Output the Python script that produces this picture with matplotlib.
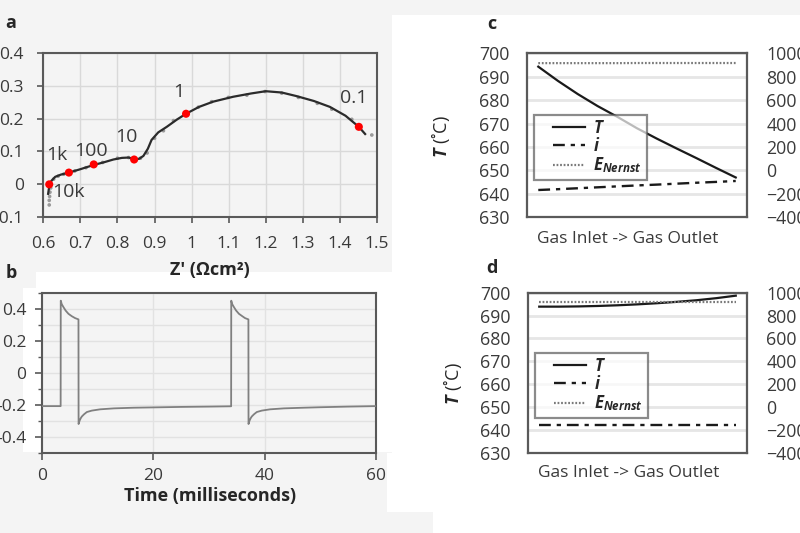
import matplotlib
matplotlib.use('Agg')
import matplotlib.pyplot as plt
from matplotlib.patches import Rectangle
from matplotlib.legend_handler import HandlerLine2D
from matplotlib.ticker import MultipleLocator

plt.rcParams['font.family'] = ['Open Sans', 'DejaVu Sans']
plt.rcParams['mathtext.fontset'] = 'custom'
plt.rcParams['mathtext.rm'] = 'Open Sans'
plt.rcParams['mathtext.it'] = 'Open Sans:italic'
plt.rcParams['mathtext.bf'] = 'Open Sans:bold'
plt.rcParams['mathtext.bfit'] = 'Open Sans:italic:bold'

# ---------------- data ----------------
# (a) impedance spectrum
fit_x = [0.613, 0.615, 0.617, 0.622, 0.632, 0.648, 0.669, 0.699, 0.735, 0.765, 0.789,
         0.812, 0.830, 0.845, 0.858, 0.870, 0.882, 0.892, 0.910, 0.933, 0.960, 0.985,
         1.020, 1.058, 1.112, 1.160, 1.200, 1.243, 1.283, 1.330, 1.373, 1.415, 1.451, 1.468]
fit_y = [-0.030, -0.015, -0.002, 0.010, 0.022, 0.029, 0.035, 0.045, 0.058, 0.067, 0.075,
         0.080, 0.081, 0.076, 0.077, 0.086, 0.108, 0.135, 0.158, 0.175, 0.197, 0.215,
         0.236, 0.252, 0.267, 0.277, 0.284, 0.280, 0.269, 0.254, 0.236, 0.209, 0.175, 0.153]
meas_x = [0.616, 0.616, 0.617, 0.618, 0.620, 0.628, 0.640, 0.655, 0.685, 0.715, 0.760,
          0.800, 0.830, 0.862, 0.880, 0.900, 0.924, 0.951, 1.018, 1.054, 1.099, 1.149,
          1.198, 1.243, 1.288, 1.339, 1.378, 1.432, 1.486]
meas_y = [-0.064, -0.050, -0.038, -0.025, -0.012, 0.015, 0.024, 0.030, 0.040, 0.050, 0.066,
          0.079, 0.081, 0.079, 0.095, 0.140, 0.163, 0.194, 0.235, 0.252, 0.265, 0.272,
          0.283, 0.278, 0.265, 0.247, 0.229, 0.198, 0.150]
freq_x = [0.616, 0.669, 0.736, 0.845, 0.985, 1.451]
freq_y = [-0.001, 0.035, 0.060, 0.075, 0.215, 0.175]
freq_labels = ['10k', '1k', '100', '10', '1', '0.1']
a_xticks = [0.6, 0.7, 0.8, 0.9, 1.0, 1.1, 1.2, 1.3, 1.4, 1.5]
a_xticklabels = ['0.6', '0.7', '0.8', '0.9', '1', '1.1', '1.2', '1.3', '1.4', '1.5']
a_yticks = [-0.1, 0.0, 0.1, 0.2, 0.3, 0.4]
a_yticklabels = ['-0.1', '0', '0.1', '0.2', '0.3', '0.4']

# (b) voltage transient
time_ms = [0, 3.4, 3.42, 3.6, 3.9, 4.3, 4.8, 5.4, 6.0, 6.6, 6.62, 6.8, 7.0, 7.2, 7.6, 8.1,
           9.0, 10.5, 13.0, 16.5, 20.0, 25.0, 30.0, 34.0, 34.02, 34.2, 34.5, 34.9, 35.4,
           36.0, 36.5, 37.1, 37.12, 37.3, 37.5, 37.7, 38.1, 38.6, 39.5, 41.0, 43.5, 47.0,
           50.0, 55.0, 60.0]
volt = [-0.207, -0.207, 0.452, 0.430, 0.412, 0.390, 0.370, 0.355, 0.343, 0.335, -0.319,
        -0.298, -0.283, -0.272, -0.258, -0.244, -0.235, -0.227, -0.221, -0.217, -0.215,
        -0.212, -0.210, -0.208, 0.452, 0.430, 0.412, 0.390, 0.370, 0.355, 0.343, 0.335,
        -0.319, -0.298, -0.283, -0.272, -0.258, -0.244, -0.235, -0.227, -0.221, -0.217,
        -0.214, -0.210, -0.207]
b_yticks = [-0.4, -0.2, 0.0, 0.2, 0.4]
b_yticklabels = ['-0.4', '-0.2', '0', '0.2', '0.4']
b_xticks = [0, 20, 40, 60]

# (c), (d) along-channel profiles
position = [0.0, 0.1, 0.2, 0.3, 0.4, 0.5, 0.6, 0.7, 0.8, 0.9, 1.0]
T_c = [694.3, 688.2, 682.6, 677.5, 672.9, 668.0, 663.6, 659.4, 655.3, 651.1, 647.0]
i_c = [-167, -160, -152, -144, -136, -128, -121, -113, -105, -98, -90]
E_c = [916, 916, 916, 916, 916, 917, 917, 917, 917, 917, 917]
T_d = [693.9, 693.9, 694.0, 694.2, 694.5, 694.9, 695.4, 696.0, 696.7, 697.6, 698.7]
i_d = [-158, -158, -158, -158, -158, -158, -158, -158, -158, -158, -158]
E_d = [916, 916, 916, 916, 916, 916, 916, 916, 916, 916, 916]
T_ticks = [630, 640, 650, 660, 670, 680, 690, 700]
R_ticks = [-400, -200, 0, 200, 400, 600, 800, 1000]

# ---------------- layout helpers ----------------
W, H = 800, 533
BG = '#f4f4f4'
TXT = '#3a3a3a'
SP = '#595959'
fig = plt.figure(figsize=(8, 5.33), dpi=100, facecolor=BG)


def fr(x0, y0, x1, y1):
    return [x0 / W, 1 - y1 / H, (x1 - x0) / W, (y1 - y0) / H]


def ftext(x, y, s, **kw):
    return fig.text(x / W, 1 - y / H, s, **kw)


for (x0, y0, x1, y1) in [(392, 15, 800, 512), (433, 512, 800, 533), (387, 453, 392, 512),
                         (23, 288, 392, 452), (36, 272, 392, 290)]:
    fig.add_artist(Rectangle((x0 / W, 1 - y1 / H), (x1 - x0) / W, (y1 - y0) / H,
                             transform=fig.transFigure, facecolor='white',
                             edgecolor='none', zorder=-5))

# ---------------- panel a ----------------
axa = fig.add_axes(fr(43.3, 53.3, 377, 216.7))
axa.set_facecolor('none')
axa.plot(fit_x, fit_y, color='#2b2b2b', lw=1.6, zorder=3)
axa.scatter(meas_x, meas_y, s=7, color='#9a9a9a', edgecolors='none', zorder=2)
axa.scatter(freq_x, freq_y, s=34, color='#ff0000', edgecolors='none', zorder=5)
lab_pos = [(0.669, -0.040), (0.636, 0.073), (0.728, 0.086), (0.824, 0.129),
           (0.964, 0.266), (1.436, 0.248)]
for s, (lx, ly) in zip(freq_labels, lab_pos):
    axa.text(lx, ly, s, ha='center', va='baseline', fontsize=14, color=TXT, zorder=6)
axa.set_xlim(0.6, 1.5)
axa.set_ylim(-0.1, 0.4)
axa.set_xticks(a_xticks)
axa.set_xticklabels(a_xticklabels)
axa.set_yticks(a_yticks)
axa.set_yticklabels(a_yticklabels)
axa.grid(color='#d9d9d9', lw=1.0)
axa.set_axisbelow(True)
for s in axa.spines.values():
    s.set_color(SP)
    s.set_linewidth(1.5)
axa.tick_params(direction='out', length=4, width=1.2, color=SP, labelsize=12.5,
                labelcolor=TXT)
axa.tick_params(axis='y', pad=10)
axa.tick_params(axis='x', pad=10)
ftext(210, 270, "Z' (Ωcm²)", ha='center', va='center', fontsize=13, fontweight='bold',
      color='#262626')
ftext(11, 23, 'a', ha='center', va='center', fontsize=13, fontweight='bold', color='#262626')

# ---------------- panel b ----------------
axb = fig.add_axes(fr(41.7, 293, 376, 453))
axb.set_facecolor(BG)
axb.plot(time_ms, volt, color='#808080', lw=1.3, zorder=3)
axb.set_xlim(0, 60)
axb.set_ylim(-0.5, 0.5)
axb.set_xticks(b_xticks)
axb.set_yticks(b_yticks)
axb.set_yticklabels(b_yticklabels)
axb.yaxis.set_minor_locator(MultipleLocator(0.1))
axb.grid(which='both', axis='y', color='#e2e2e2', lw=1.0)
axb.grid(which='major', axis='x', color='#e2e2e2', lw=1.0)
axb.set_axisbelow(True)
for s in axb.spines.values():
    s.set_color(SP)
    s.set_linewidth(1.5)
axb.tick_params(which='major', direction='out', length=5, width=1.2, color=SP,
                labelsize=12.5, labelcolor=TXT, pad=6)
axb.tick_params(which='minor', direction='out', length=3, width=1.0, color=SP)
ftext(210, 496, 'Time (milliseconds)', ha='center', va='center', fontsize=13,
      fontweight='bold', color='#262626')
ftext(11, 273, 'b', ha='center', va='center', fontsize=13, fontweight='bold', color='#262626')


# ---------------- panels c, d ----------------
class OffsetLine(HandlerLine2D):
    def __init__(self, off=0.8, **kw):
        super().__init__(**kw)
        self.off = off

    def create_artists(self, legend, orig_handle, xdescent, ydescent, width, height,
                       fontsize, trans):
        o = self.off * fontsize
        return super().create_artists(legend, orig_handle, xdescent - o, ydescent,
                                      width - o, height, fontsize, trans)


def profile(rect, T, cur, E, leg_anchor):
    ax = fig.add_axes(rect)
    ax.set_facecolor('white')
    ax2 = ax.twinx()
    lT, = ax.plot(position, T, color='#1a1a1a', lw=1.6, label=r'$\mathbfit{T}$')
    li, = ax2.plot(position, cur, color='#1a1a1a', lw=1.7, ls=(0, (5, 2.5, 1.8, 2.5)),
                   label=r'$\mathbfit{i}$')
    lE, = ax2.plot(position, E, color='#7a7a7a', lw=1.6, ls=(0, (0.8, 0.8)),
                   label=r'$\mathbfit{E}_{\mathbfit{Nernst}}$')
    ax.set_xlim(-0.0556, 1.0556)
    ax.set_ylim(630, 700)
    ax.set_yticks(T_ticks)
    ax2.set_ylim(-400, 1000)
    ax2.set_yticks(R_ticks)
    ax.set_xticks([])
    ax.grid(axis='y', color='#e6e6e6', lw=2.0)
    ax.set_axisbelow(True)
    for s in ax.spines.values():
        s.set_color('#5a5a5a')
        s.set_linewidth(1.6)
    for s in ax2.spines.values():
        s.set_visible(False)
    ax.tick_params(axis='y', length=0, pad=13, labelsize=12.8, labelcolor=TXT)
    ax2.tick_params(axis='y', length=0, pad=14, labelsize=12.8, labelcolor=TXT)
    hmap = {lT: OffsetLine(0.84), li: OffsetLine(0.84), lE: OffsetLine(0.84)}
    leg = ax2.legend(handles=[lT, li, lE], loc='lower left', bbox_to_anchor=leg_anchor,
                     fontsize=12, frameon=True, fancybox=False, framealpha=0.7,
                     edgecolor='#5a5a5a', borderpad=0.3, handlelength=2.75,
                     handletextpad=0.48, labelspacing=0.02, borderaxespad=0.0,
                     handler_map=hmap)
    leg.get_frame().set_linewidth(1.6)
    for t in leg.get_texts():
        t.set_color('#262626')
    return ax


profile(fr(527.3, 53.3, 746.7, 217.3), T_c, i_c, E_c, (0.032, 0.227))
profile(fr(528.3, 292.7, 746.7, 452.7), T_d, i_d, E_d, (0.031, 0.215))

for (x, y) in [(441, 137), (453, 384)]:
    ftext(x, y, r'$\mathbfit{T}$ (˚C)', rotation=90, ha='center', va='center',
          fontsize=13, color='#262626')
ftext(628, 239, 'Gas Inlet -> Gas Outlet', ha='center', va='center', fontsize=12.5,
      color=TXT)
ftext(629, 473, 'Gas Inlet -> Gas Outlet', ha='center', va='center', fontsize=12.5,
      color=TXT)
ftext(492, 24, 'c', ha='center', va='center', fontsize=13, fontweight='bold', color='#262626')
ftext(492, 268, 'd', ha='center', va='center', fontsize=13, fontweight='bold', color='#262626')

fig.savefig('out.png', dpi=100, facecolor=BG)
